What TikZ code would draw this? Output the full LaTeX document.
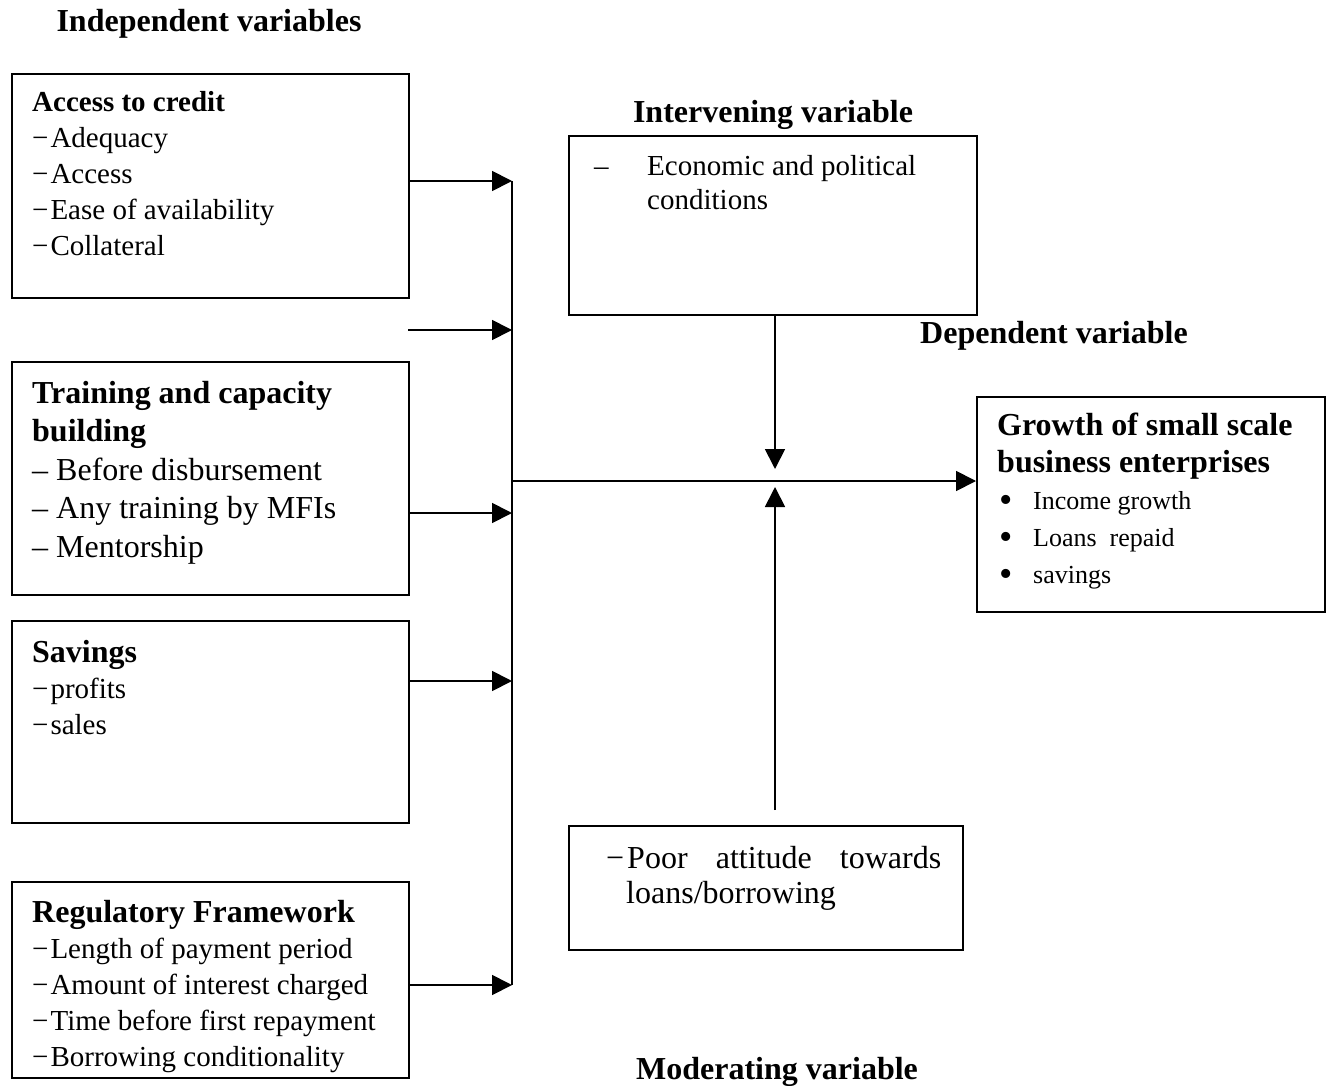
\documentclass[tikz,border=0pt]{standalone}
\usepackage{fontspec}
\setmainfont{Liberation Serif}
\usepackage{tikz}
\usetikzlibrary{arrows.meta,positioning,calc}

\newcommand{\dsh}{−\kern2pt}
\newcommand{\blt}{\makebox[36pt][l]{\hspace*{2pt}\raisebox{-3pt}{\fontsize{38}{38}\selectfont\textbullet}}}

\begin{document}
\begin{tikzpicture}[
    x=1pt, y=-1pt,
    box/.style={rectangle, draw, line width=1.8pt, anchor=north west, inner sep=0pt},
    txt/.style={anchor=north west, inner sep=0pt, align=left, font=\fontsize{#1}{36}\selectfont},
    txt/.default=29,
    hdr/.style={anchor=base, inner sep=0pt, font=\fontsize{32}{38}\selectfont\bfseries},
    arr/.style={-{Triangle[length=20pt, width=20pt]}, line width=1.8pt}
]
\useasboundingbox (0,0) rectangle (1327,1086);

% Independent variables (left column)
\node[hdr] (indep) at (209,32) {Independent variables};
\node[box, minimum width=397pt, minimum height=224pt] (acc) at (11,73) {};
\node[txt] (acct) at (32,91) {\textbf{Access to credit}\\\dsh Adequacy\\\dsh Access\\\dsh Ease of availability\\\dsh Collateral};

\node[box, minimum width=397pt, minimum height=233pt] (trn) at (11,361) {};
\node[txt, font=\fontsize{32}{38.5}\selectfont] (trnt) at (32,381) {\textbf{Training and capacity}\\\textbf{building}\\– Before disbursement\\– Any training by MFIs\\– Mentorship};

\node[box, minimum width=397pt, minimum height=202pt] (sav) at (11,620) {};
\node[txt] (savt) at (32,640) {{\fontsize{32}{38}\selectfont\bfseries Savings}\\\dsh profits\\\dsh sales};

\node[box, minimum width=397pt, minimum height=196pt] (reg) at (11,881) {};
\node[txt] (regt) at (32,900) {{\fontsize{32}{38}\selectfont\bfseries Regulatory Framework}\\\dsh Length of payment period\\\dsh Amount of interest charged\\\dsh Time before first repayment\\\dsh Borrowing conditionality};

% Collecting line
\coordinate (s1) at (512,181);
\coordinate (s0) at (408,330);
\coordinate (s2) at (512,330);
\coordinate (s3) at (512,513);
\coordinate (s4) at (512,681);
\coordinate (s5) at (512,985);
\coordinate (hub) at (512,481);
\draw[line width=1.8pt] (s1) -- (s5);
\draw[arr] (s1 -| acc.east) -- (s1);
\draw[arr] (s0) -- (s2);
\draw[arr] (s3 -| trn.east) -- (s3);
\draw[arr] (s4 -| sav.east) -- (s4);
\draw[arr] (s5 -| reg.east) -- (s5);

% Intervening variable (top)
\node[hdr] (intv) at (773,123) {Intervening variable};
\node[box, minimum width=408pt, minimum height=179pt] (int) at (568,135) {};
\node[txt=29, font=\fontsize{29}{34}\selectfont] (intt) at (594,155) {\makebox[53pt][l]{–}Economic and political\\\hspace*{53pt}conditions};

% Dependent variable (right)
\node[hdr] (depv) at (1054,343) {Dependent variable};
\node[box, minimum width=348pt, minimum height=215pt] (grw) at (976,396) {};
\node[txt, font=\fontsize{26}{37}\selectfont] (grwt) at (997,413) {{\fontsize{32}{37}\selectfont\bfseries Growth of small scale}\\{\fontsize{32}{37}\selectfont\bfseries business enterprises}\\\blt Income growth\\\blt Loans\ \ repaid\\\blt savings};

% Moderating variable (bottom)
\node[box, minimum width=394pt, minimum height=124pt] (mod) at (568,825) {};
\node[txt, font=\fontsize{32}{35}\selectfont] (modt) at (606,846) {\makebox[335pt][s]{−\kern3pt Poor attitude towards}\\\hspace*{20pt}loans/borrowing};
\node[hdr] (modv) at (777,1079) {Moderating variable};

% Flows into the dependent variable
\coordinate (mid) at (775,481);
\coordinate (mup) at (775,810);
\draw[arr] (hub) -- (hub -| grw.west);
\draw[arr] (int.south -| mid) -- ([yshift=12pt]mid);
\draw[arr] (mup) -- ([yshift=-6pt]mid);

\end{tikzpicture}
\end{document}
